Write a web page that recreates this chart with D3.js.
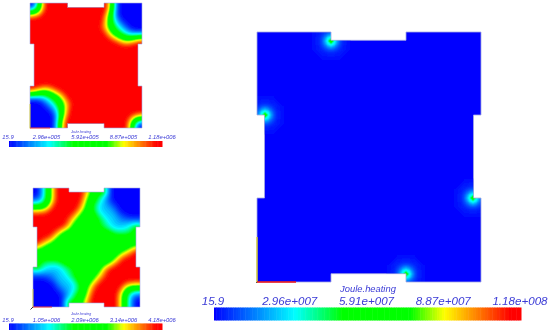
<!DOCTYPE html>
<html>
<head>
<meta charset="utf-8">
<script src="https://cdn.jsdelivr.net/npm/d3@7"></script>
<style>
  html, body { margin: 0; padding: 0; background: #fff; }
  svg { display: block; }
  text { font-family: "Liberation Sans", Arial, sans-serif; font-style: italic; fill: #3a3ad6; }
</style>
</head>
<body>
<div id="grafico"></div>
<script>
// values, digit / 9 = position on the colour bar
var fieldTop = [
  "00379 99999 99999 99999 73000 0000",
  "01379 99999 99999 99999 73000 0000",
  "33589 99999 99999 99999 63000 0000",
  "78899 99999 99999 99998 52000 0000",
  "99999 99999 99999 99997 53100 0000",
  "99999 99999 99999 99997 53210 0000",
  "99999 99999 99999 99987 54321 0000",
  "99999 99999 99999 99998 65332 1000",
  "99999 99999 99999 99999 76543 3333",
  "99999 99999 99999 99999 98765 5678",
  "99999 99999 99999 99999 99988 8999",
  "99999 99999 99999 99999 99999 9999",
  "99999 99999 99999 99999 99999 9999",
  "99999 99999 99999 99999 99999 9999",
  "99999 99999 99999 99999 99999 9999",
  "99999 99999 99999 99999 99999 9999",
  "99999 99999 99999 99999 99999 9999",
  "99999 99999 99999 99999 99999 9999",
  "99999 99999 99999 99999 99999 9999",
  "99999 99999 99999 99999 99999 9999",
  "99999 99999 99999 99999 99999 9999",
  "99988 89999 99999 99999 99999 9999",
  "87655 67899 99999 99999 99999 9999",
  "33333 45679 99999 99999 99999 9999",
  "00012 33568 99999 99999 99999 9999",
  "00001 23457 89999 99999 99999 9999",
  "00000 12357 99999 99999 99999 9999",
  "00000 01357 99999 99999 99999 9999",
  "00000 00258 99999 99999 99999 9887",
  "00000 00369 99999 99999 99999 8533",
  "00000 00379 99999 99999 99999 7310",
  "00000 00379 99999 99999 99999 7300"
];

var fieldBottom = [
  "00135 79999 99987 55431 00000 000",
  "00135 79999 99987 55471 00000 000",
  "00135 79999 99986 54321 00000 000",
  "11235 79999 99975 54321 00000 000",
  "33346 89999 99875 43221 10000 000",
  "55567 99999 99865 43222 11000 000",
  "88889 99999 98755 43222 21000 000",
  "99999 99999 87555 54322 22110 000",
  "99999 99998 76555 54432 22111 111",
  "99999 99998 65555 54433 22222 222",
  "99999 99987 55555 54433 22223 373",
  "99999 98755 55555 55554 43333 344",
  "99999 87555 55555 55555 44444 555",
  "99988 75555 55555 55555 55555 555",
  "99876 55555 55555 55555 55555 555",
  "77655 55555 55555 55555 55555 677",
  "55555 55555 55555 55555 55567 899",
  "55555 55555 55555 55555 55788 999",
  "55544 44455 55555 55555 57899 999",
  "44333 33445 55555 55555 78999 999",
  "37332 22233 44555 55578 99999 999",
  "22222 22233 44555 55689 99999 999",
  "11111 12223 44555 56789 99999 999",
  "00001 12222 34555 57899 99999 999",
  "00000 01222 23455 78999 99998 888",
  "00000 01122 23456 89999 99976 555",
  "00000 00112 23457 89999 99864 333",
  "00000 00012 34557 99999 99753 211",
  "00000 00012 34568 99999 99753 100",
  "00000 00017 45578 99999 99753 100",
  "00000 00013 45578 99999 99753 100"
];

// hot spot at the notch corners of the big panel, percent of the colour bar
var spotField = [
  [0, 0, 0, 1, 1, 1, 1, 1, 1, 1, 0, 0, 0],
  [0, 0, 1, 2, 2, 3, 3, 3, 2, 2, 1, 0, 0],
  [0, 1, 2, 3, 3, 4, 4, 4, 3, 3, 2, 1, 0],
  [1, 2, 3, 4, 6, 8, 9, 8, 6, 4, 3, 2, 1],
  [1, 2, 3, 6, 10, 15, 18, 15, 10, 6, 3, 2, 1],
  [1, 3, 4, 8, 15, 25, 30, 25, 15, 8, 4, 3, 1],
  [1, 3, 4, 9, 18, 30, 50, 30, 18, 9, 4, 3, 1],
  [1, 3, 4, 8, 15, 25, 30, 25, 15, 8, 4, 3, 1],
  [1, 2, 3, 6, 10, 15, 18, 15, 10, 6, 3, 2, 1],
  [1, 2, 3, 4, 6, 8, 9, 8, 6, 4, 3, 2, 1],
  [0, 1, 2, 3, 3, 4, 4, 4, 3, 3, 2, 1, 0],
  [0, 0, 1, 2, 2, 3, 3, 3, 2, 2, 1, 0, 0],
  [0, 0, 0, 1, 1, 1, 1, 1, 1, 1, 0, 0, 0]
];
var spotsX = [331, 265, 473, 406];
var spotsY = [41, 115, 198, 274];

var barStops = [0, 0.264, 0.42, 0.64, 0.75, 0.965, 1];
var barColors = ["#0000ff", "#00ffff", "#00ff00", "#00ff00", "#ffff00", "#ff0000", "#ff0000"];

var ticksTop = ["15.9", "2.96e+005", "5.91e+005", "8.87e+005", "1.18e+006"];
var ticksBottom = ["15.9", "1.05e+006", "2.09e+006", "3.14e+006", "4.18e+006"];
var ticksBig = ["15.9", "2.96e+007", "5.91e+007", "8.87e+007", "1.18e+008"];
var barTitle = "Joule.heating";

var width = 550,
    height = 334,
    fino = 4;

var color = d3.scaleLinear().domain(barStops).range(barColors);

var svg = d3.select("#grafico").append("svg")
    .attr("width", width)
    .attr("height", height);

var defs = svg.append("defs");
defs.append("filter").attr("id", "borrao").attr("x", "-5%").attr("y", "-5%").attr("width", "110%").attr("height", "110%")
  .append("feGaussianBlur").attr("stdDeviation", 0.6);
defs.append("filter").attr("id", "borrao2").attr("x", "-5%").attr("y", "-20%").attr("width", "110%").attr("height", "140%")
  .append("feGaussianBlur").attr("stdDeviation", 0.3);

function parseRows(rows) {
  return rows.map(function(r) {
    return r.replace(/ /g, "").split("").map(function(c) { return +c / 9; });
  });
}

// finer copy of a grid so the contour bands come out round
function refine(grid, k, r) {
  var ny = grid.length, nx = grid[0].length;
  var w = (nx - 1) * k + 1, h = (ny - 1) * k + 1;
  var out = new Float64Array(w * h);
  for (var j = 0; j < h; j++) {
    var fy = j / k, y0 = Math.min(Math.floor(fy), ny - 2), ty = fy - y0;
    for (var i = 0; i < w; i++) {
      var fx = i / k, x0 = Math.min(Math.floor(fx), nx - 2), tx = fx - x0;
      out[j * w + i] = grid[y0][x0] * (1 - tx) * (1 - ty) + grid[y0][x0 + 1] * tx * (1 - ty)
        + grid[y0 + 1][x0] * (1 - tx) * ty + grid[y0 + 1][x0 + 1] * tx * ty;
    }
  }
  var blurred = d3.blur2({data: out, width: w, height: h}, r);
  return {values: Array.from(blurred.data), w: w, h: h};
}

// outline with the four notches
function outline(b) {
  return "M" + [
    [b.x0, b.y0], [b.nx0, b.y0], [b.nx0, b.y0 + b.ny], [b.nx1, b.y0 + b.ny], [b.nx1, b.y0],
    [b.x1, b.y0], [b.x1, b.sy0], [b.x1 - b.sx, b.sy0], [b.x1 - b.sx, b.sy1], [b.x1, b.sy1],
    [b.x1, b.y1], [b.nx1, b.y1], [b.nx1, b.y1 - b.ny], [b.nx0, b.y1 - b.ny], [b.nx0, b.y1],
    [b.x0, b.y1], [b.x0, b.sy1], [b.x0 + b.sx, b.sy1], [b.x0 + b.sx, b.sy0], [b.x0, b.sy0]
  ].join("L") + "Z";
}

function drawContours(g, values, nx, ny, x, y, thresholds) {
  var contours = d3.contours().size([nx, ny]).thresholds(thresholds).smooth(true)(values);
  var path = d3.geoPath(d3.geoTransform({
    point: function(px, py) { this.stream.point(x(px), y(py)); }
  }));
  g.selectAll(null).data(contours).enter().append("path")
    .attr("d", path)
    .attr("fill", function(d) { return color(d.value); });
}

function drawPanel(id, b, rows) {
  defs.append("clipPath").attr("id", "clip" + id).append("path").attr("d", outline(b));
  var g = svg.append("g").attr("filter", "url(#borrao)")
    .append("g").attr("clip-path", "url(#clip" + id + ")");
  g.append("rect").attr("x", b.x0).attr("y", b.y0)
    .attr("width", b.x1 - b.x0).attr("height", b.y1 - b.y0)
    .attr("fill", color(0));
  if (rows) {
    var f = refine(parseRows(rows), fino, fino * 0.7);
    var x = d3.scaleLinear().domain([0.5, f.w - 0.5]).range([b.x0, b.x1]);
    var y = d3.scaleLinear().domain([0.5, f.h - 0.5]).range([b.y0, b.y1]);
    drawContours(g, f.values, f.w, f.h, x, y, d3.range(0, 1.001, 1 / 45));
  } else {
    spotsX.forEach(function(sx, i) {
      var n = spotField.length, c = 3;
      var x = d3.scaleLinear().domain([0.5, n - 0.5]).range([sx - c * 6, sx + c * 6]);
      var y = d3.scaleLinear().domain([0.5, n - 0.5]).range([spotsY[i] - c * 6, spotsY[i] + c * 6]);
      var vals = d3.merge(spotField).map(function(v) { return v / 100; });
      drawContours(g, vals, n, n, x, y, d3.range(0.005, 0.6, 0.005));
    });
  }
  svg.append("path").attr("d", outline(b))
    .attr("fill", "none")
    .attr("stroke", "#a4a8e2")
    .attr("stroke-width", b.line)
    .attr("filter", "url(#borrao2)");
  // little axes at the origin
  svg.append("line").attr("x1", b.x0).attr("x2", b.x0)
    .attr("y1", b.y1 - b.axisY).attr("y2", b.y1 + 0.5)
    .attr("stroke", "#d8d020").attr("stroke-width", b.axisW);
  svg.append("line").attr("x1", b.x0).attr("x2", b.x0 + b.axisX)
    .attr("y1", b.y1).attr("y2", b.y1)
    .attr("stroke", "#f01010").attr("stroke-width", b.axisW);
  svg.append("line").attr("x1", b.x0 - b.tick).attr("x2", b.x0)
    .attr("y1", b.y1 + b.tick).attr("y2", b.y1)
    .attr("stroke", "#333").attr("stroke-width", 1);
}

function drawBar(b, ticks) {
  var g = svg.append("g");
  var x = d3.scaleLinear().domain([0, 1]).range([b.x0, b.x1]);
  var steps = d3.range(0, 1, 1 / 128);
  g.append("g").attr("filter", "url(#borrao2)").selectAll("rect").data(steps).enter().append("rect")
    .attr("x", function(d) { return x(d); })
    .attr("y", b.y0)
    .attr("width", (b.x1 - b.x0) / 128 + 0.5)
    .attr("height", b.y1 - b.y0)
    .attr("fill", function(d) { return color(d + 1 / 256); });
  var pos = d3.scalePoint().domain(ticks).range([b.t0, b.t1]);
  var labels = g.append("g").attr("filter", "url(#borrao2)");
  labels.selectAll("text").data(ticks).enter().append("text")
    .attr("x", function(d) { return pos(d); })
    .attr("y", b.base)
    .attr("text-anchor", "middle")
    .attr("font-size", b.size)
    .text(function(d) { return d; });
  labels.append("text")
    .attr("x", b.tx)
    .attr("y", b.tbase)
    .attr("text-anchor", "middle")
    .attr("font-size", b.tsize)
    .text(barTitle);
}

drawPanel("A", {x0: 30, x1: 142, y0: 3, y1: 128, nx0: 67.5, nx1: 104, ny: 4.5, sy0: 44, sy1: 86, sx: 4, line: 0.6, axisX: 20, axisY: 24, axisW: 0.8, tick: 0}, fieldTop);
drawPanel("B", {x0: 33, x1: 140, y0: 188, y1: 307, nx0: 69, nx1: 104, ny: 4, sy0: 227, sy1: 267, sx: 4, line: 0.6, axisX: 19, axisY: 18, axisW: 0.8, tick: 2.5}, fieldBottom);
drawPanel("C", {x0: 257, x1: 481, y0: 32, y1: 282, nx0: 331, nx1: 406, ny: 8.3, sy0: 115, sy1: 198, sx: 7.5, line: 0.8, axisX: 39, axisY: 45, axisW: 1.3, tick: 0.8}, null);

drawBar({x0: 9, x1: 162, y0: 141, y1: 147, t0: 8, t1: 162, base: 139.3, size: 5.8, tx: 81, tbase: 133, tsize: 3.4}, ticksTop);
drawBar({x0: 9, x1: 162, y0: 323.5, y1: 330, t0: 8, t1: 162, base: 322, size: 5.8, tx: 81, tbase: 315, tsize: 3.4}, ticksBottom);
drawBar({x0: 214, x1: 521, y0: 307.5, y1: 320.5, t0: 213, t1: 520, base: 305, size: 11.6, tx: 368, tbase: 292, tsize: 9.4}, ticksBig);
</script>
</body>
</html>
